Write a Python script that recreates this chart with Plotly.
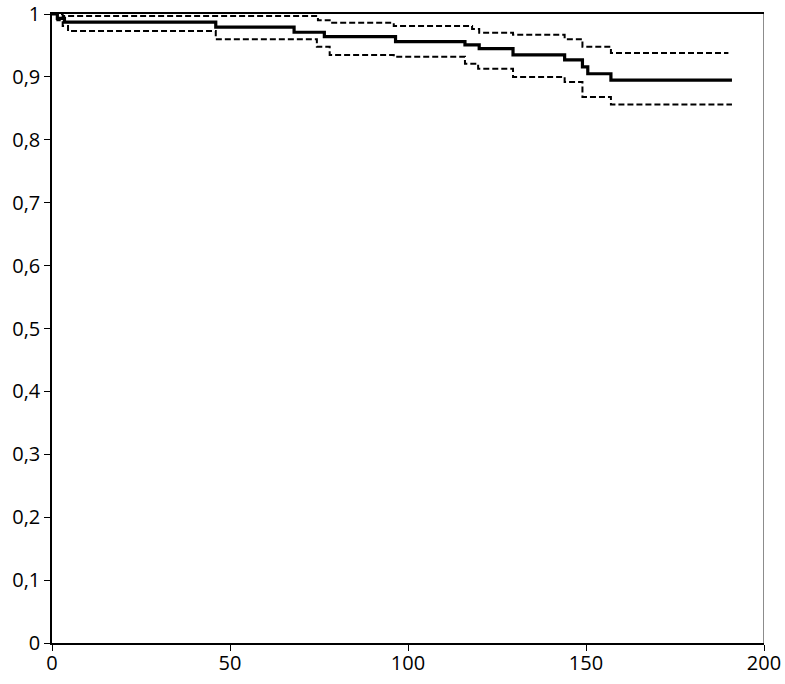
import plotly.graph_objects as go

# Kaplan-Meier estimate (step points: time, survival after step)
km_time = [0, 1.5, 3.5, 46, 68, 76.5, 96.5, 116, 120, 129.5, 144, 149, 150.5, 157, 191]
km_surv = [1.0, 0.993, 0.987, 0.979, 0.971, 0.964, 0.956, 0.951, 0.945, 0.935, 0.927, 0.916, 0.905, 0.895, 0.895]

# upper confidence limit
up_time = [0, 3, 74.7, 78, 96, 118, 120, 129.5, 144, 149, 157, 190]
up_surv = [1.0, 0.997, 0.990, 0.986, 0.981, 0.976, 0.970, 0.967, 0.960, 0.948, 0.938, 0.938]

# lower confidence limit
lo_time = [0, 1.5, 3, 4.5, 46, 74.4, 78, 96, 116, 119.7, 129.5, 144, 149, 157, 191]
lo_surv = [1.0, 0.99, 0.981, 0.973, 0.960, 0.948, 0.935, 0.932, 0.921, 0.913, 0.900, 0.892, 0.868, 0.856, 0.856]

fig = go.Figure()
fig.add_trace(go.Scatter(x=up_time, y=up_surv, mode="lines", line_shape="hv",
                         line=dict(color="black", width=2, dash="6px,3px")))
fig.add_trace(go.Scatter(x=lo_time, y=lo_surv, mode="lines", line_shape="hv",
                         line=dict(color="black", width=2, dash="6px,3px")))
fig.add_trace(go.Scatter(x=km_time, y=km_surv, mode="lines", line_shape="hv",
                         line=dict(color="black", width=3.2)))

# right border in grey
fig.add_shape(type="line", xref="x", yref="paper", x0=200, x1=200, y0=0, y1=1,
              line=dict(color="#666666", width=1.5))

fig.update_layout(
    width=785, height=684,
    margin=dict(l=52, r=21, t=14, b=41),
    paper_bgcolor="white", plot_bgcolor="white",
    showlegend=False,
    separators=", ",
    font=dict(family="Open Sans", size=20, color="black"),
)
fig.update_xaxes(range=[0, 200], tickvals=[0, 50, 100, 150, 200], automargin=False,
                 showgrid=False, zeroline=False, showline=True, linecolor="black",
                 linewidth=1.5, mirror=True, ticks="outside", ticklen=6,
                 tickcolor="black", ticklabelstandoff=-5, ticklabeloverflow="allow")
fig.update_yaxes(range=[0, 1], tickvals=[0, 0.1, 0.2, 0.3, 0.4, 0.5, 0.6, 0.7, 0.8, 0.9, 1],
                 automargin=False, ticklabeloverflow="allow",
                 showgrid=False, zeroline=False, showline=True, linecolor="black",
                 linewidth=1.5, ticks="outside", ticklen=6, tickcolor="black")

fig.write_html("out.html", config={"displayModeBar": False},
               post_script="document.body.style.margin='0';")
